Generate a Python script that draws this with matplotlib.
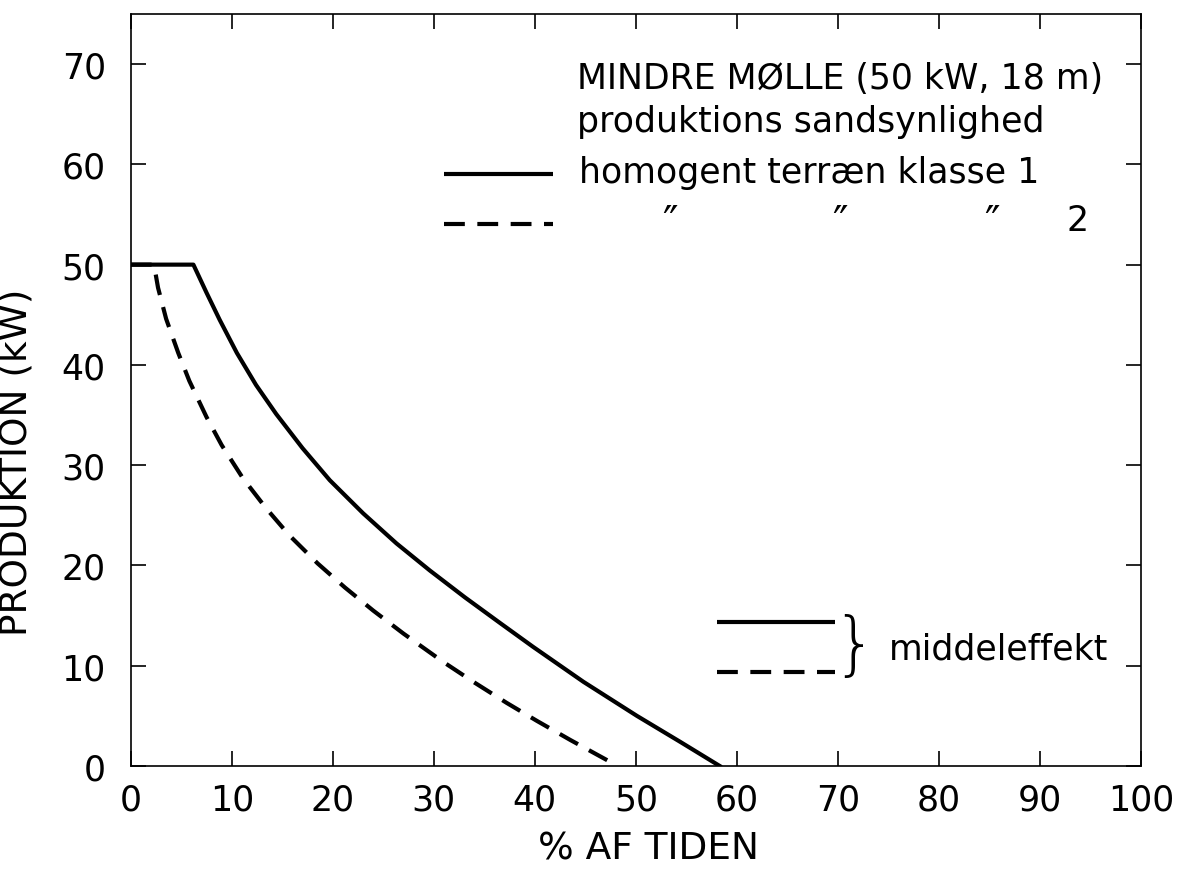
import numpy as np
import matplotlib
matplotlib.use("Agg")
import matplotlib.pyplot as plt

# varighedskurver: % af tiden produktionen er mindst P (kW)
klasse1_tid = [0.0, 6.2, 7.5, 8.8, 10.5, 12.4, 14.4, 17.0, 19.7, 23.0, 26.3, 29.6,
               33.1, 36.5, 39.8, 44.8, 50.1, 54.4, 58.3]
klasse1_kw = [50.0, 50.0, 47.2, 44.5, 41.2, 38.0, 35.1, 31.7, 28.5, 25.2, 22.2, 19.5,
              16.8, 14.3, 11.9, 8.4, 5.0, 2.4, 0.0]

klasse2_tid = [0.0, 2.3, 2.7, 3.5, 4.7, 5.8, 7.5, 9.0, 11.1, 13.4, 15.7, 18.5, 21.2,
               24.0, 27.0, 30.9, 33.9, 37.2, 40.2, 43.5, 48.2]
klasse2_kw = [50.0, 50.0, 47.7, 44.6, 41.2, 38.4, 34.8, 32.0, 28.7, 25.7, 23.0, 20.2, 17.8,
              15.5, 13.2, 10.4, 8.4, 6.3, 4.5, 2.6, 0.0]

x_ticks = list(range(0, 101, 10))
y_ticks = list(range(0, 71, 10))

plt.rcParams["font.family"] = ["DejaVu Sans"]

fig = plt.figure(figsize=(11.78, 8.7), dpi=100)
ax = fig.add_axes([0.111, 0.1184, 0.8576, 0.8644])

ax.plot(klasse1_tid, klasse1_kw, color="black", lw=3.0, solid_joinstyle="round")
ax.plot(klasse2_tid, klasse2_kw, color="black", lw=3.0, linestyle=(0, (5, 3)))

ax.set_xlim(0, 100)
ax.set_ylim(0, 75)
ax.set_xticks(x_ticks)
ax.set_yticks(y_ticks)
ax.tick_params(direction="in", length=11, width=1.2, top=True, right=True,
               labelsize=25, color="black")
ax.tick_params(axis="x", pad=12)
ax.tick_params(axis="y", pad=18)
for s in ax.spines.values():
    s.set_linewidth(1.2)

ax.set_xlabel("% AF TIDEN", fontsize=27)
ax.xaxis.set_label_coords(0.512, -0.086)
ax.set_ylabel("PRODUKTION (kW)", fontsize=27)
ax.yaxis.set_label_coords(-0.095, 0.405)

# forklaring oeverst til hoejre
fs = 25
ax.text(44.2, 67.6, "MINDRE MØLLE (50 kW, 18 m)", fontsize=fs, va="baseline")
ax.text(44.2, 63.3, "produktions sandsynlighed", fontsize=fs, va="baseline")
ax.text(44.4, 58.2, "homogent terræn klasse 1", fontsize=fs, va="baseline")
ax.plot([31.0, 41.8], [59.0, 59.0], color="black", lw=3.0, solid_capstyle="butt")
ax.plot([31.0, 41.8], [54.1, 54.1], color="black", lw=3.0, linestyle=(0, (5, 3)))
for xd in [53.4, 70.2, 85.2]:
    ax.text(xd, 54.2, "\u2033", fontsize=30, ha="center", va="center")
ax.text(92.6, 53.5, "2", fontsize=fs, va="baseline")

# middeleffekt
ax.plot([58.0, 69.7], [14.4, 14.4], color="black", lw=3.0, solid_capstyle="butt")
ax.plot([58.0, 69.7], [9.4, 9.4], color="black", lw=3.0, linestyle=(0, (5, 3)))
ax.text(71.6, 11.9, "}", fontsize=50, ha="center", va="center",
        fontweight="light")
ax.text(75.0, 10.7, "middeleffekt", fontsize=fs, va="baseline")

fig.savefig("out.png", dpi=100)
